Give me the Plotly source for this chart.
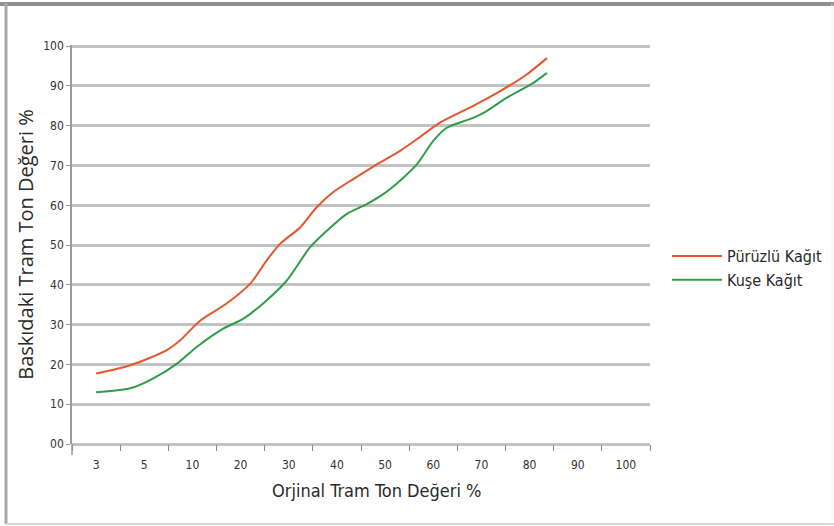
import plotly.graph_objects as go

# ---- data ----
tick_labels = ["3", "5", "10", "20", "30", "40", "50", "60", "70", "80", "90", "100"]
y_tick_vals = [0, 10, 20, 30, 40, 50, 60, 70, 80, 90, 100]
y_tick_text = ["00", "10", "20", "30", "40", "50", "60", "70", "80", "90", "100"]

# positions along the original-tone axis (in units of label slots, 0 = "3")
puruzlu_x = [0.0, 0.71, 1.47, 1.74, 2.16, 2.71, 3.20, 3.54, 3.82, 4.24, 4.58,
             4.92, 5.34, 5.83, 6.31, 6.66, 7.14, 7.83, 8.39, 8.94, 9.36]
puruzlu_y = [17.7, 19.8, 23.6, 26.0, 31.0, 35.3, 40.3, 46.1, 50.3, 54.5, 59.5,
             63.3, 66.6, 70.3, 73.7, 76.6, 80.8, 85.0, 88.7, 92.9, 97.0]

kuse_x = [0.0, 0.71, 1.19, 1.68, 2.09, 2.64, 3.06, 3.54, 3.96, 4.44, 4.79, 5.20,
          5.62, 5.96, 6.31, 6.66, 7.00, 7.28, 7.83, 8.11, 8.52, 9.08, 9.36]
kuse_y = [13.0, 14.0, 16.5, 20.2, 24.4, 29.0, 31.5, 36.1, 41.1, 49.4, 53.6, 57.8,
          60.3, 62.8, 66.2, 70.3, 76.2, 79.5, 82.0, 83.7, 87.0, 90.8, 93.3]

x_title = "Orjinal Tram Ton Değeri %"
y_title = "Baskıdaki Tram Ton Değeri %"

# ---- layout constants ----
W, H = 834, 526
ML, MR, MT, MB = 72, 184, 45, 82
PW, PH = W - ML - MR, H - MT - MB

NARROW = "DejaVu Sans Condensed, Liberation Sans Narrow, Roboto, sans-serif"
SANS = "Open Sans, Lato, sans-serif"
TXT = "#333333"
GRID = "#c2c2c2"


def px_x(px):
    return (px - ML) / PW


def px_y(py):
    return (H - MB - py) / PH


fig = go.Figure()
fig.add_trace(go.Scatter(
    x=puruzlu_x, y=puruzlu_y, mode="lines", name="Pürüzlü Kağıt",
    line=dict(color="#e4572e", width=2, shape="spline", smoothing=0.8),
    legendgroup="a"))
fig.add_trace(go.Scatter(
    x=kuse_x, y=kuse_y, mode="lines", name="Kuşe Kağıt",
    line=dict(color="#2f9e4a", width=2, shape="spline", smoothing=0.8),
    legendgroup="b"))

n = len(tick_labels)
fig.update_xaxes(
    range=[-0.5, n - 0.5],
    tickmode="array", tickvals=list(range(n)), ticktext=tick_labels,
    ticks="", showgrid=False, zeroline=False, showline=False,
    ticklabelstandoff=12,
    tickfont=dict(family=NARROW, size=12, color=TXT),
    minor=dict(tickmode="array", tickvals=[i - 0.5 for i in range(n + 1)],
               ticks="outside", ticklen=6, tickwidth=1, tickcolor="#888888",
               showgrid=False),
)
fig.update_yaxes(
    range=[0, 100.3],
    tickmode="array", tickvals=y_tick_vals, ticktext=y_tick_text,
    showgrid=True, gridcolor=GRID, gridwidth=2.5,
    zeroline=True, zerolinecolor=GRID, zerolinewidth=2.5,
    showline=True, linecolor="#9a9a9a", linewidth=1.5,
    ticks="outside", ticklen=4, tickcolor="#9a9a9a",
    tickfont=dict(family=NARROW, size=12, color=TXT),
    title=dict(text=y_title, standoff=4,
               font=dict(family=SANS, size=20, color="#2a2a2a")),
)

# x-axis title (placed slightly right of centre, as in the original)
fig.add_annotation(text=x_title, xref="paper", yref="paper",
                   x=px_x(376), y=px_y(490), xanchor="center", yanchor="middle",
                   showarrow=False,
                   font=dict(family=NARROW, size=18, color="#2a2a2a"))

frame = [
    dict(x0=px_x(0), x1=px_x(W), y0=px_y(4), y1=px_y(4), color="#8e8e8e", w=4),
    dict(x0=px_x(6), x1=px_x(6), y0=px_y(3), y1=px_y(524), color="#a8a8a8", w=3),
    dict(x0=px_x(6), x1=px_x(W), y0=px_y(524), y1=px_y(524), color="#d6d6d6", w=2),
    dict(x0=px_x(832), x1=px_x(832), y0=px_y(4), y1=px_y(524), color="#eeeeee", w=1),
    dict(x0=0, x1=0, y0=0, y1=px_y(455), color="#9a9a9a", w=1.5),
]
for f in frame:
    fig.add_shape(type="line", xref="paper", yref="paper",
                  x0=f["x0"], x1=f["x1"], y0=f["y0"], y1=f["y1"],
                  line=dict(color=f["color"], width=f["w"]), layer="above")

fig.update_layout(
    width=W, height=H,
    margin=dict(l=ML, r=MR, t=MT, b=MB, autoexpand=False),
    paper_bgcolor="white", plot_bgcolor="white",
    showlegend=True,
    legend=dict(x=px_x(667), y=px_y(268), xanchor="left", yanchor="middle",
                font=dict(family=NARROW, size=16, color="#2a2a2a"),
                itemwidth=50, tracegroupgap=0, bgcolor="rgba(0,0,0,0)"),
)

fig.write_html("out.html",
               config={"displayModeBar": False},
               post_script="document.body.style.margin='0';"
                           "document.body.style.overflow='hidden';")
